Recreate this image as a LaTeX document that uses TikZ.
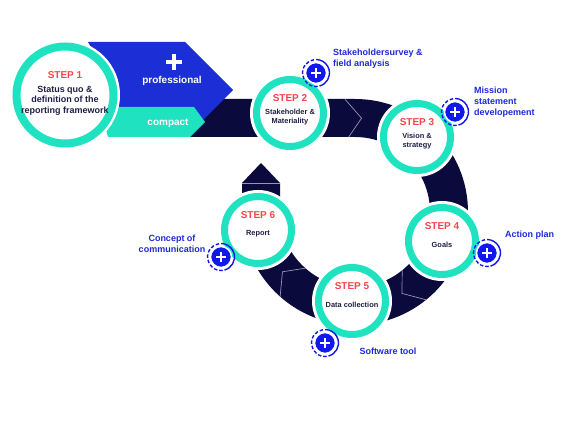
\documentclass[tikz,border=0pt]{standalone}
\usepackage{fontspec}
\setmainfont{Liberation Sans}
\usepackage{tikz}
\definecolor{navy}{RGB}{10,10,60}
\definecolor{mint}{RGB}{30,226,192}
\definecolor{royal}{RGB}{28,46,214}
\definecolor{plusblue}{RGB}{16,24,235}
\definecolor{stepred}{RGB}{245,70,75}
\definecolor{ink}{RGB}{30,30,70}
\definecolor{labelblue}{RGB}{30,40,215}
\definecolor{seamgray}{RGB}{150,150,180}

\begin{document}
\begin{tikzpicture}
[x=1pt,y=1pt,every node/.style={inner sep=0pt},
 ring/.style={circle,draw=mint,fill=white,line width=7pt,minimum size=67pt,preaction={draw=white,line width=13pt}},
 bigring/.style={ring,minimum size=97pt,line width=8pt},
 steptag/.style={text=stepred,font=\bfseries\fontsize{10}{12}\selectfont},
 stepbody/.style={text=ink,align=center,font=\bfseries\fontsize{7.4}{9}\selectfont},
 badge/.style={circle,fill=plusblue,draw=white,line width=1.5pt,minimum size=21pt},
 calloutlabel/.style={text=labelblue,font=\bfseries\fontsize{9}{11}\selectfont},
 seam/.style={draw=seamgray,line width=0.7pt}]
\useasboundingbox (0,-425) rectangle (568,0);

\fill[navy] (185,-99) -- (355,-99) arc[start angle=90,end angle=-180,radius=113]
  -- (242,-183) -- (261,-163) -- (280,-183) -- (280,-212)
  arc[start angle=-180,end angle=90,radius=75] -- (185,-137) -- cycle;
\fill[royal] (88,-42) -- (185,-42) -- (233,-90) -- (199,-124) -- (110,-124) -- (110,-80) -- cycle;
\fill[mint] (100,-107) -- (194,-107) -- (205,-122) -- (190,-137) -- (108,-137) -- cycle;
\draw[white,line width=3.5pt] (174,-54) -- (174,-70) (166,-62) -- (182,-62);
\node[text=white,font=\bfseries\fontsize{10}{12}\selectfont] (pro) at (172,-81) {professional};
\node[text=white,font=\bfseries\fontsize{10}{12}\selectfont] (com) at (168,-123) {compact};

\begin{scope}[shift={(355,-212)}]
\foreach \a in {86,-60,-140.5}
  \draw[seam] (\a+9:75) -- (\a:94) -- (\a+9:113);
\end{scope}
\draw[seam] (242,-183) -- (280,-183);

\node[bigring] (s1) at (65,-95) {};
\node[steptag] (t1) at ([yshift=20pt]s1.center) {STEP 1};
\node[stepbody,font=\bfseries\fontsize{9}{10.5}\selectfont] (d1) at ([yshift=-5.5pt]s1.center)
  {Status quo \&\\definition of the\\reporting framework};

\foreach \n/\x/\y/\txt in {2/290/113/{Stakeholder \&\\Materiality},
  3/417/137/{Vision \&\\strategy},4/442/241/{Goals},
  5/352/301/{Data collection},6/258/230/{Report}}
{
\node[ring] (s\n) at (\x,-\y) {};
\node[steptag] (t\n) at ([yshift=15pt]s\n.center) {STEP \n};
\node[stepbody] (d\n) at ([yshift=-4pt]s\n.center) {\txt};
}

\foreach \n/\x/\y in {2/316/73,3/455/112,4/487/253,5/325/343,6/221/257}
{
\node[badge] (b\n) at (\x,-\y) {};
\draw[plusblue,line width=1.4pt] (b\n.center) ++(-75:13.5) arc[start angle=-75,end angle=75,radius=13.5];
\draw[plusblue,line width=1.4pt,dash pattern=on 3.5pt off 2pt] (b\n.center) ++(75:13.5) arc[start angle=75,end angle=285,radius=13.5];
\draw[white,line width=2.2pt] (b\n.center) +(-5,0) -- +(5,0) +(0,-5) -- +(0,5);
}

\node[calloutlabel,anchor=west,align=left] (l2) at (333,-59) {Stakeholdersurvey \&\\field analysis};
\node[calloutlabel,anchor=west,align=left] (l3) at (474,-102) {Mission\\statement\\developement};
\node[calloutlabel,anchor=west] (l4) at (505,-235) {Action plan};
\node[calloutlabel] (l5) at (388,-351) {Software tool};
\node[calloutlabel,align=center] (l6) at (172,-244) {Concept of\\communication};
\end{tikzpicture}
\end{document}
